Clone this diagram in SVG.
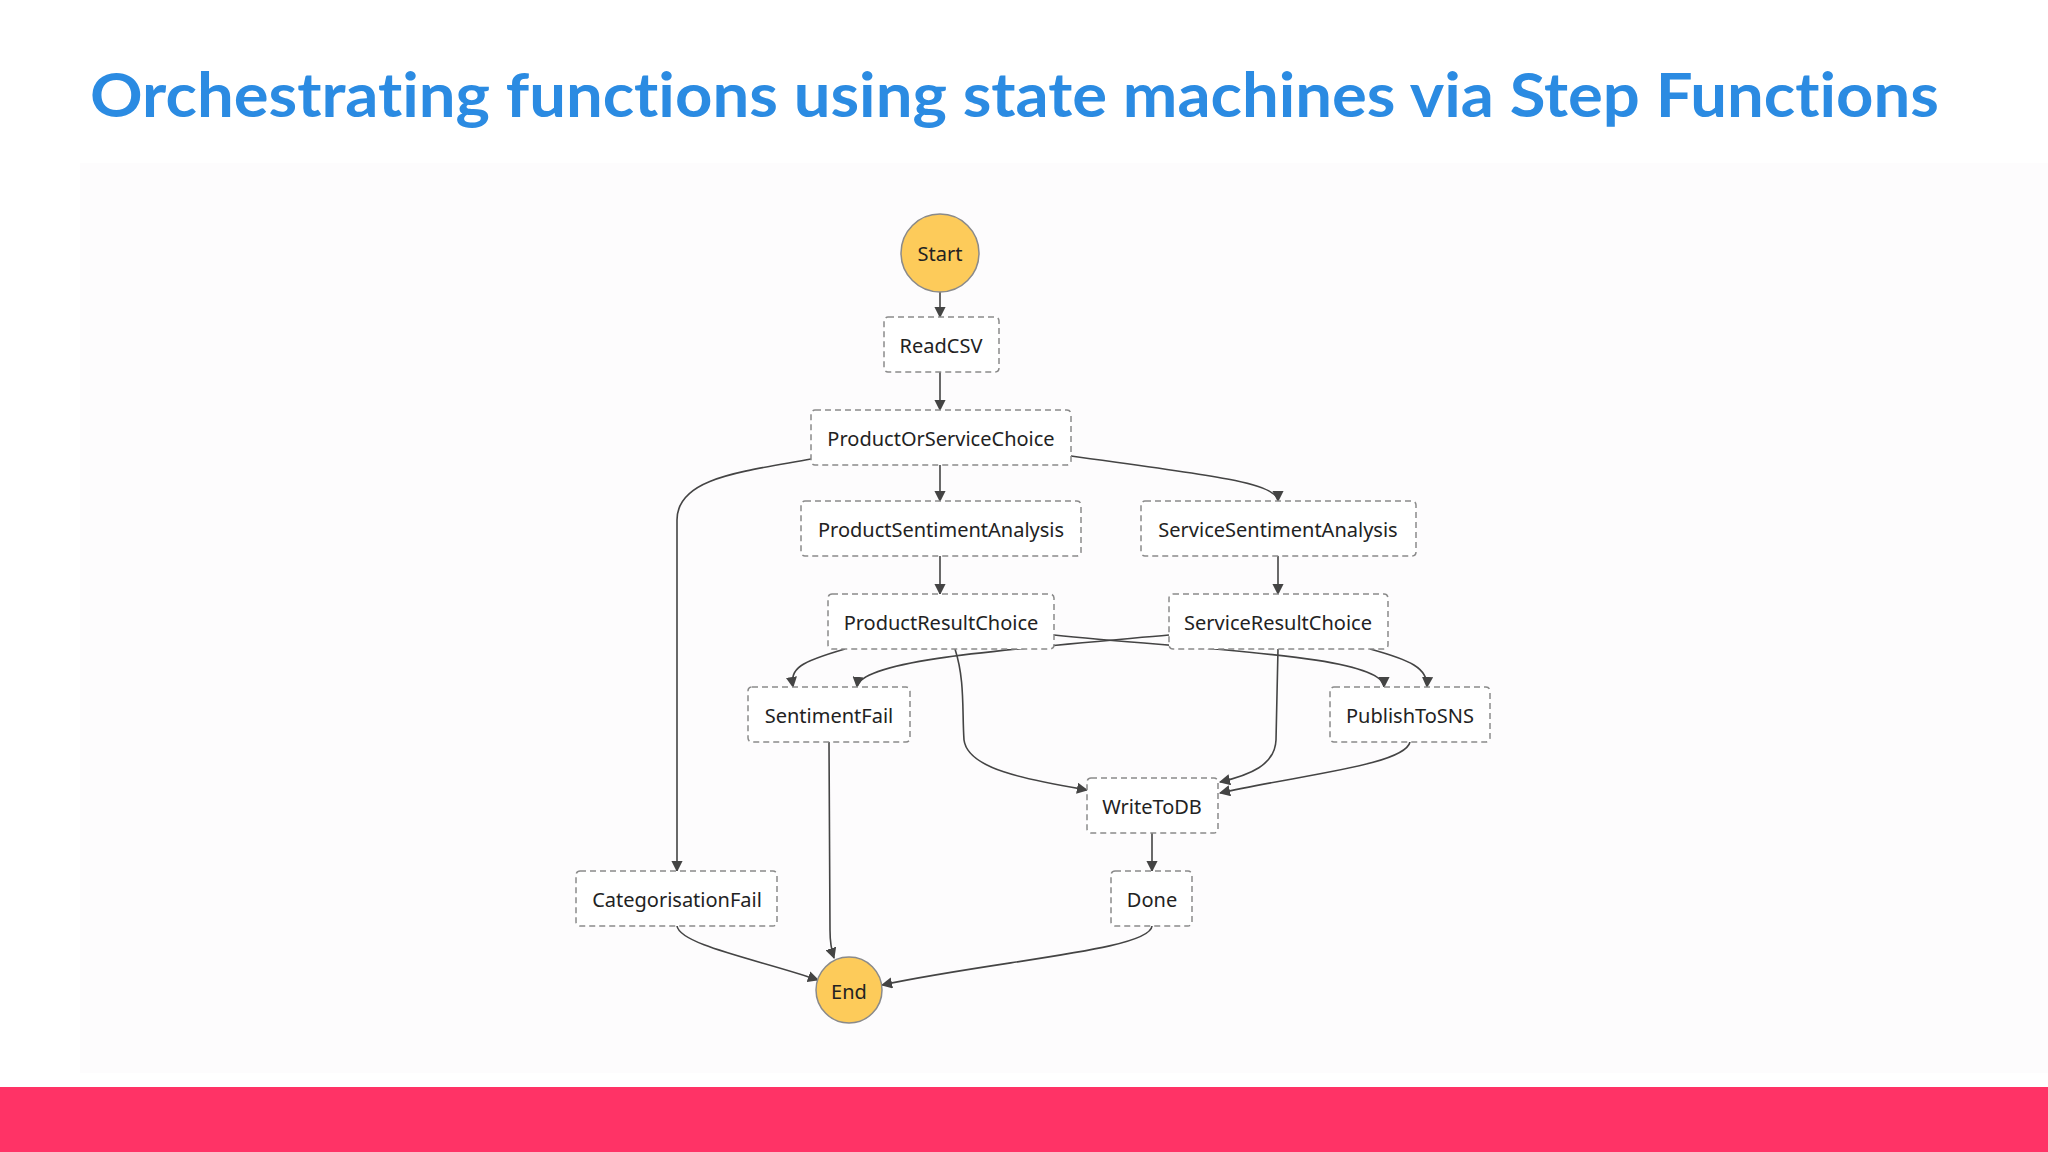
<svg xmlns="http://www.w3.org/2000/svg" width="2048" height="1152" viewBox="0 0 2048 1152">
<defs>
<marker id="ah" viewBox="0 0 10 10" refX="9" refY="5" markerWidth="7" markerHeight="7" orient="auto"><path d="M0,0 L10,5 L0,10 z" fill="#444"/></marker>
<style>
.n rect{fill:#fff;stroke:#8a8a8a;stroke-width:1.5;stroke-dasharray:6 4}
.n circle{fill:#fdcb5a;stroke:#8a8a8a;stroke-width:1.5}
.n text{font-family:"Noto Sans","Open Sans",sans-serif;font-size:20px;fill:#222;text-anchor:middle;dominant-baseline:central}
#edges path{fill:none;stroke:#444;stroke-width:1.6;marker-end:url(#ah)}
</style>
</defs>
<rect width="2048" height="1152" fill="#fff"/>
<rect x="80" y="163" width="1968" height="910" fill="#fdfcfd"/>
<text x="90" y="117" font-family="Lato,'Open Sans',sans-serif" font-weight="bold" font-size="62" fill="#2b8be2" style="font-variant-ligatures:none" textLength="1849" lengthAdjust="spacingAndGlyphs">Orchestrating functions using state machines via Step Functions</text>
<rect x="0" y="1087" width="2048" height="65" fill="#ff3366"/>
<g id="edges">
<path d="M940,292 L940,317"/>
<path d="M940,372 L940,410"/>
<path d="M940,465 L940,501"/>
<path d="M1071,456 C1200,474 1278,482 1278,501"/>
<path d="M811,459 C740,472 677,478 677,520 L677,871"/>
<path d="M940,556 L940,594"/>
<path d="M1278,556 L1278,594"/>
<path d="M845,649 C800,662 790,668 793,687"/>
<path d="M1054,635 C1200,650 1384,655 1384,687"/>
<path d="M955,649 C965,680 962,710 964,740 C968,770 1030,780 1087,790"/>
<path d="M1169,635 C1000,650 860,660 857,687"/>
<path d="M1370,649 C1410,660 1428,668 1427,687"/>
<path d="M1278,649 L1276,740 C1275,765 1250,775 1220,782"/>
<path d="M1410,742 C1405,765 1300,775 1220,793"/>
<path d="M1152,833 L1152,871"/>
<path d="M829,742 L830,930 C830,945 832,952 834,958"/>
<path d="M677,926 C680,945 760,960 818,980"/>
<path d="M1152,926 C1150,950 1000,960 882,985"/>
</g>
<g id="start" class="n"><circle cx="940" cy="253" r="39"/><text x="940" y="253">Start</text></g>
<g id="readcsv" class="n"><rect x="884" y="317" width="115" height="55" rx="4"/><text x="941" y="345">ReadCSV</text></g>
<g id="posc" class="n"><rect x="811" y="410" width="260" height="55" rx="4"/><text x="941" y="438">ProductOrServiceChoice</text></g>
<g id="psa" class="n"><rect x="801" y="501" width="280" height="55" rx="4"/><text x="941" y="529">ProductSentimentAnalysis</text></g>
<g id="ssa" class="n"><rect x="1141" y="501" width="275" height="55" rx="4"/><text x="1278" y="529">ServiceSentimentAnalysis</text></g>
<g id="prc" class="n"><rect x="828" y="594" width="226" height="55" rx="4"/><text x="941" y="622">ProductResultChoice</text></g>
<g id="src" class="n"><rect x="1169" y="594" width="219" height="55" rx="4"/><text x="1278" y="622">ServiceResultChoice</text></g>
<g id="sf" class="n"><rect x="748" y="687" width="162" height="55" rx="4"/><text x="829" y="715">SentimentFail</text></g>
<g id="sns" class="n"><rect x="1330" y="687" width="160" height="55" rx="4"/><text x="1410" y="715">PublishToSNS</text></g>
<g id="db" class="n"><rect x="1087" y="778" width="131" height="55" rx="4"/><text x="1152" y="806">WriteToDB</text></g>
<g id="cf" class="n"><rect x="576" y="871" width="201" height="55" rx="4"/><text x="677" y="899">CategorisationFail</text></g>
<g id="done" class="n"><rect x="1111" y="871" width="81" height="55" rx="4"/><text x="1152" y="899">Done</text></g>
<g id="end" class="n"><circle cx="849" cy="990" r="33"/><text x="849" y="991">End</text></g>
</svg>
